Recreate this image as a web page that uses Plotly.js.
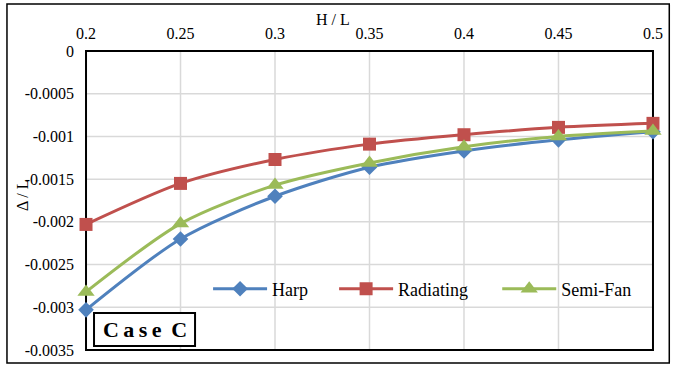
<!DOCTYPE html>
<html>
<head>
<meta charset="utf-8">
<script src="https://cdn.plot.ly/plotly-3.0.1.min.js"></script>
<style>html,body{margin:0;padding:0;background:#fff;}#chart{width:673px;height:365px;}</style>
</head>
<body>
<div id="chart"></div>
<script>
// H / L ratios along the top axis
const ratios = [0.2, 0.25, 0.3, 0.35, 0.4, 0.45, 0.5];
// Δ / L for each cable arrangement
const harp = [-0.00303, -0.00220, -0.00170, -0.00136, -0.00117, -0.00104, -0.000945];
const radiating = [-0.00203, -0.00155, -0.00127, -0.00109, -0.00098, -0.000894, -0.000847];
const semiFan = [-0.00282, -0.00202, -0.00157, -0.00131, -0.00112, -0.00100, -0.000937];
const seriesNames = ['Harp', 'Radiating', 'Semi-Fan'];
const xTicks = [0.2, 0.25, 0.3, 0.35, 0.4, 0.45, 0.5];
const yTicks = [0, -0.0005, -0.001, -0.0015, -0.002, -0.0025, -0.003, -0.0035];

const serif = 'Liberation Serif';

// x range is padded a little so the end markers are not cut by the plot area
const xPad = 0.0053;
const xRange = [xTicks[0] - xPad, xTicks[xTicks.length - 1] + xPad];
const yRange = [yTicks[yTicks.length - 1], yTicks[0]];
const px = v => (v - xRange[0]) / (xRange[1] - xRange[0]);
const py = v => (v - yRange[0]) / (yRange[1] - yRange[0]);

function series(name, y, color, symbol, size, legendId) {
  return {
    x: ratios, y: y, name: name, type: 'scatter', mode: 'lines+markers',
    legend: legendId,
    line: {color: color, width: 3, shape: 'spline', smoothing: 0.8},
    marker: {color: color, symbol: symbol, size: size}
  };
}

const traces = [
  series(seriesNames[0], harp, '#4F81BD', 'diamond', 12, 'legend'),
  series(seriesNames[1], radiating, '#C0504D', 'square', 13, 'legend2'),
  series(seriesNames[2], semiFan, '#9BBB59', 'triangle-up', 15, 'legend3')
];

const legendStyle = x => ({
  x: x, xanchor: 'left', y: 0.204, yanchor: 'middle',
  bgcolor: 'rgba(0,0,0,0)', font: {family: serif, size: 18, color: '#000'},
  itemwidth: 54
});

// grid and plot frame
const grid = '#d9d9d9';
const shapes = [];
xTicks.forEach(v => shapes.push({type: 'line', xref: 'paper', yref: 'paper',
  x0: px(v), x1: px(v), y0: 0, y1: 1, line: {color: grid, width: 1.5}, layer: 'below'}));
yTicks.forEach(v => shapes.push({type: 'line', xref: 'paper', yref: 'paper',
  x0: px(xTicks[0]), x1: px(xTicks[xTicks.length - 1]), y0: py(v), y1: py(v),
  line: {color: grid, width: 1.5}, layer: 'below'}));
shapes.push({type: 'rect', xref: 'paper', yref: 'paper',
  x0: px(xTicks[0]), x1: px(xTicks[xTicks.length - 1]), y0: 0, y1: 1,
  line: {color: '#000', width: 2}, fillcolor: 'rgba(0,0,0,0)', layer: 'below'});
// outer figure frame
shapes.push({type: 'rect', xref: 'paper', yref: 'paper', x0: -0.1176, x1: 1.0107, y0: -0.0435, y1: 1.157,
  line: {color: '#000', width: 1.5}, fillcolor: 'rgba(0,0,0,0)', layer: 'below'});
// case label box
shapes.push({type: 'rect', xref: 'paper', yref: 'paper', x0: 0.0307, x1: 0.2028, y0: 0.0134, y1: 0.1237,
  line: {color: '#000', width: 2}, fillcolor: '#fff', layer: 'above'});

const layout = {
  width: 673, height: 365,
  margin: {l: 76, r: 10.3, t: 51, b: 15},
  paper_bgcolor: '#fff', plot_bgcolor: '#fff',
  font: {family: serif, color: '#000', size: 16},
  showlegend: true,
  legend: legendStyle(0.2250),
  legend2: legendStyle(0.4397),
  legend3: legendStyle(0.7176),
  xaxis: {
    side: 'top', range: xRange, tickvals: xTicks,
    ticktext: xTicks.map(String), ticks: '', ticklabelstandoff: 8,
    showgrid: false, showline: false, zeroline: false,
    tickfont: {family: serif, size: 16, color: '#000'}
  },
  yaxis: {
    range: yRange, tickvals: yTicks,
    ticktext: yTicks.map(String), ticks: '', ticklabelstandoff: 1,
    showgrid: false, showline: false, zeroline: false,
    tickfont: {family: serif, size: 16, color: '#000'}
  },
  shapes: shapes,
  annotations: [
    {text: 'H / L', xref: 'paper', yref: 'paper', x: 0.4380, y: 1.1037,
     xanchor: 'center', yanchor: 'middle', showarrow: false, font: {family: serif, size: 16}},
    {text: 'Δ / L', xref: 'paper', yref: 'paper', x: -0.0920, y: 0.518, textangle: -90,
     xanchor: 'center', yanchor: 'middle', showarrow: false, font: {family: serif, size: 16}},
    {text: '<b>C\u2009a\u2009s\u2009e\u2009 C</b>', xref: 'paper', yref: 'paper', x: 0.1168, y: 0.0686,
     xanchor: 'center', yanchor: 'middle', showarrow: false, font: {family: serif, size: 22}}
  ]
};

Plotly.newPlot('chart', traces, layout, {displayModeBar: false});
</script>
</body>
</html>
